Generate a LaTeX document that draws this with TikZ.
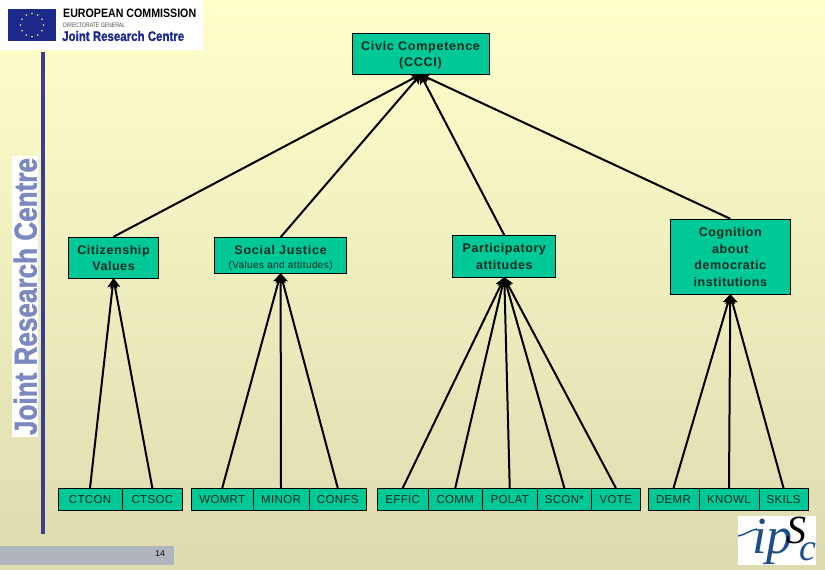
\documentclass[tikz,border=0pt]{standalone}
\usepackage{graphicx}
\usepackage{fontspec}
\setmainfont{Liberation Sans}
\newfontfamily\serifit{Liberation Serif}
\newfontfamily\heavyfont[FakeBold=1.5]{Liberation Sans Bold}
\usetikzlibrary{arrows.meta}
\definecolor{boxgreen}{HTML}{00C896}
\definecolor{bgtop}{HTML}{FFFFCC}
\definecolor{bgbot}{HTML}{DDDBB0}
\definecolor{barblue}{HTML}{3D3D8F}
\definecolor{jrcblue}{HTML}{7C88C0}
\definecolor{flagblue}{HTML}{1C2A8C}
\definecolor{logoblue}{HTML}{1C4F8A}
\definecolor{graybar}{HTML}{B0B4BC}
\definecolor{inktext}{HTML}{0C2A22}
\newcommand{\dropby}[2]{\raisebox{-#1}[\height][\depth]{#2}}
\tikzset{
  box/.style={draw=black,line width=1pt,fill=boxgreen,inner sep=0pt,align=center,text=inktext},
  topbox/.style={box,font=\fontsize{12.5}{16.5}\selectfont\bfseries\addfontfeature{LetterSpace=4.5}},
  leaf/.style={box,minimum height=21.5pt,font=\fontsize{11.5}{13}\selectfont\addfontfeature{LetterSpace=3}},
  link/.style={line width=2pt,-{Stealth[length=10pt,width=10pt,inset=2pt]},shorten >=-1pt},
  logotext/.style={inner sep=0pt,anchor=west}
}
\begin{document}
\begin{tikzpicture}[x=1pt,y=-1pt]
\useasboundingbox (0,0) rectangle (825,570);
\shade[top color=bgtop,bottom color=bgbot] (0,0) rectangle (825,570);

% EC logo
\fill[white] (0,0) rectangle (203,50);
\fill[flagblue] (8,9) rectangle (56,41);
\foreach \a in {0,30,...,330}
  \fill[yellow!70!white] (32,25)++(\a:11.5) circle (0.9);
\node[logotext,text=black] (ecname) at (63,13) {\resizebox{133pt}{8.5pt}{\bfseries EUROPEAN COMMISSION}};
\node[logotext,text=black!70] (ecdg) at (63,25) {\resizebox{62pt}{4.5pt}{DIRECTORATE GENERAL}};
\node[logotext,text=flagblue] (ecjrc) at (62,36) {\resizebox{122pt}{10pt}{\heavyfont Joint Research Centre}};

% Side band
\fill[barblue] (41,52) rectangle (44.5,534);
\fill[white] (12,156) rectangle (38,437);
\node[inner sep=0pt,rotate=90,text=jrcblue] (jrcside) at (25.3,296.5) {\resizebox{277pt}{23pt}{\heavyfont Joint Research Centre}};

% Page number
\fill[graybar] (0,546) rectangle (174,565);
\node[inner sep=0pt,font=\fontsize{8.5}{10}\selectfont,text=black] (pagenum) at (160,553.5) {14};

% ipsc logo
\fill[white] (738,516) rectangle (816,565);
\node[inner sep=0pt,anchor=base west,text=logoblue,font=\serifit\itshape] (logo) at (752,553)
  {\fontsize{52}{52}\selectfont i\kern-0.5pt p\kern-6pt\raisebox{10pt}{\color{black}\fontsize{40}{40}\selectfont S}\kern-7pt\raisebox{-7pt}{\fontsize{38}{38}\selectfont c}};
\draw[logoblue,line width=1.4pt] (738,536) .. controls (745,535) and (750,530) .. (757,529);

% Upper boxes
\node[topbox,minimum width=137pt,minimum height=40.5pt,font=\fontsize{12.5}{16}\selectfont\bfseries\addfontfeature{LetterSpace=6}] (civic) at (420.5,53.75) {\dropby{2pt}{Civic Competence}\\\dropby{2pt}{(CCCI)}};
\node[topbox,minimum width=90.4pt,minimum height=41pt] (citizen) at (113.5,257.8) {Citizenship\\Values};
\node[topbox,minimum width=132.2pt,minimum height=35.6pt,
      font=\fontsize{12.5}{15}\selectfont\bfseries\addfontfeature{LetterSpace=6}] (social) at (280.6,255.5)
  {\dropby{3pt}{Social Justice}\\[-1pt]\dropby{3pt}{\fontsize{10}{11}\selectfont\mdseries\addfontfeature{LetterSpace=4}(Values and attitudes)}};
\node[topbox,minimum width=102.7pt,minimum height=41.6pt] (particip) at (504.3,256.5) {Participatory\\attitudes};
\node[topbox,minimum width=120pt,minimum height=75pt] (cognition) at (730.3,256.8) {Cognition\\about\\democratic\\institutions};

% Leaf boxes
\node[leaf,minimum width=64pt] (ctcon) at (90,499.25) {CTCON};
\node[leaf,minimum width=60.7pt] (ctsoc) at (152.35,499.25) {CTSOC};
\node[leaf,minimum width=61.5pt] (womrt) at (222.25,499.25) {WOMRT};
\node[leaf,minimum width=56pt] (minor) at (281,499.25) {MINOR};
\node[leaf,minimum width=57.5pt] (confs) at (337.75,499.25) {CONFS};
\node[leaf,minimum width=50.5pt] (effic) at (402.75,499.25) {EFFIC};
\node[leaf,minimum width=54.5pt] (comm) at (455.25,499.25) {COMM};
\node[leaf,minimum width=54.5pt] (polat) at (509.75,499.25) {POLAT};
\node[leaf,minimum width=54.7pt] (scon) at (564.35,499.25) {SCON*};
\node[leaf,minimum width=48.3pt] (vote) at (615.85,499.25) {VOTE};
\node[leaf,minimum width=51pt] (demr) at (673.5,499.25) {DEMR};
\node[leaf,minimum width=60pt] (knowl) at (729,499.25) {KNOWL};
\node[leaf,minimum width=49pt] (skils) at (783.5,499.25) {SKILS};

% Connectors
\foreach \c in {citizen,social,particip,cognition}
  \draw[link] (\c.north) -- (civic.south);
\foreach \c in {ctcon,ctsoc}
  \draw[link] (\c.north) -- (citizen.south);
\foreach \c in {womrt,minor,confs}
  \draw[link] (\c.north) -- (social.south);
\foreach \c in {effic,comm,polat,scon,vote}
  \draw[link] (\c.north) -- (particip.south);
\foreach \c in {demr,knowl,skils}
  \draw[link] (\c.north) -- (cognition.south);
\end{tikzpicture}
\end{document}
